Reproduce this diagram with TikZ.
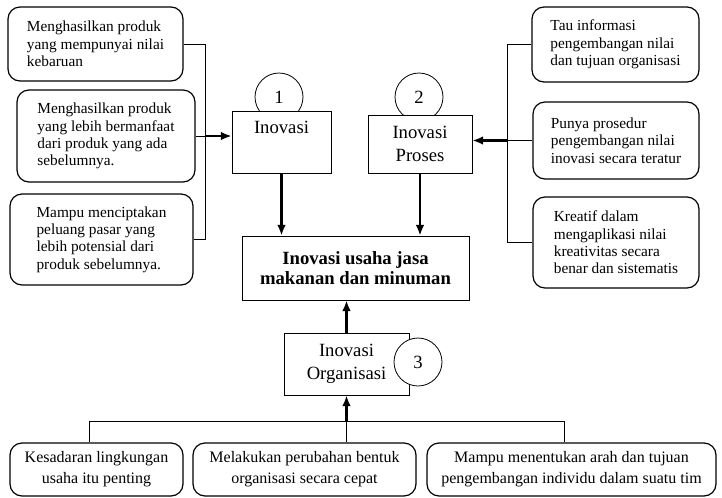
\documentclass[tikz,border=0pt]{standalone}
\usepackage{fontspec}
\setmainfont{Liberation Serif}
\usetikzlibrary{arrows.meta,positioning}

\tikzset{
  roundbox/.style={draw, rounded corners=9pt, line width=0.9pt, align=left,
    font=\fontsize{11.5}{13}\selectfont},
  bottombox/.style={roundbox, align=center, minimum height=39.75pt,
    font=\fontsize{12}{16}\selectfont},
  plainbox/.style={draw, fill=white, line width=0.6pt, align=center,
    font=\fontsize{14}{17}\selectfont},
  numcircle/.style={draw, circle, fill=white, line width=0.6pt, minimum size=36pt,
    inner sep=0pt, font=\fontsize{14}{17}\selectfont},
  thinline/.style={line width=0.6pt},
  thickarrow/.style={line width=1.6pt, -{Latex[length=8pt,width=6.5pt]}},
}

\begin{document}
\begin{tikzpicture}[x=0.75pt,y=-0.75pt]
    \useasboundingbox (0,0) rectangle (722,497);
    % numbers 1 and 2 sit behind their boxes
    \node[numcircle] (cOne) at (279,97) {1};
    \node[numcircle] (cTwo) at (419,97) {2};

    % centre column
    \node[plainbox, minimum width=74.25pt, minimum height=46.5pt] (nInovasi) at (281.5,142) {Inovasi\\\strut};
    \node[plainbox, minimum width=78pt, minimum height=43.5pt] (nProses) at (420,144) {Inovasi\\Proses};
    \node[plainbox, minimum width=170.25pt, minimum height=48pt,
        font=\fontsize{14}{15}\selectfont\bfseries] (nMain) at (355.5,268) {Inovasi usaha jasa\\makanan dan minuman};
    \node[plainbox, minimum width=93.75pt, minimum height=46.5pt] (nOrg) at (346.5,364) {Inovasi\\Organisasi};
    \node[numcircle] (cThree) at (418,362) {3};

    % left column
    \node[roundbox, minimum width=131.25pt, minimum height=55.5pt] (nLeftA) at (95.5,44)
        {Menghasilkan produk\\yang mempunyai nilai\\kebaruan};
    \node[roundbox, minimum width=133.5pt, minimum height=69pt] (nLeftB) at (106,136)
        {Menghasilkan produk\\yang lebih bermanfaat\\dari produk yang ada\\sebelumnya.};
    \node[roundbox, minimum width=137.25pt, minimum height=68.25pt] (nLeftC) at (101.5,239.5)
        {Mampu menciptakan\\peluang pasar yang\\lebih potensial dari\\produk sebelumnya.};

    % right column
    \node[roundbox, minimum width=125.25pt, minimum height=56.25pt] (nRightA) at (615.5,44.5)
        {Tau informasi\\pengembangan nilai\\dan tujuan organisasi};
    \node[roundbox, minimum width=124.5pt, minimum height=57.75pt] (nRightB) at (616,140.5)
        {Punya prosedur\\pengembangan nilai\\inovasi secara teratur};
    \node[roundbox, minimum width=124.5pt, minimum height=68.25pt] (nRightC) at (616,242.5)
        {Kreatif dalam\\mengaplikasi nilai\\kreativitas secara\\benar dan sistematis};

    % bottom row
    \node[bottombox, minimum width=129.75pt] (nBotA) at (96.5,469.5) {Kesadaran lingkungan\\usaha itu penting};
    \node[bottombox, minimum width=167.25pt] (nBotB) at (304.5,469.5) {Melakukan perubahan bentuk\\organisasi secara cepat};
    \node[bottombox, minimum width=216.75pt] (nBotC) at (571.5,469.5) {Mampu menentukan arah dan tujuan\\pengembangan individu dalam suatu tim};

    \coordinate (cLeftBar) at (205,0);
    \coordinate (cRightBar) at (507,0);
    \coordinate (cBottomBar) at (0,421);

    % left bracket
    \draw[thinline] (nLeftA.east) -- (nLeftA.east -| cLeftBar) -- (nLeftC.east -| cLeftBar) -- (nLeftC.east);
    \draw[thinline] (nLeftB.east) -- (nLeftB.east -| cLeftBar);
    \draw[thickarrow] (nLeftB.east -| cLeftBar) -- (nLeftB.east -| nInovasi.west);

    % right bracket
    \draw[thinline] (nRightA.west) -- (nRightA.west -| cRightBar) -- (nRightC.west -| cRightBar) -- (nRightC.west);
    \draw[thinline] (nRightB.west) -- (nRightB.west -| cRightBar);
    \draw[thickarrow] (nRightB.west -| cRightBar) -- (nRightB.west -| nProses.east);

    % bottom bracket
    \draw[thinline] ([xshift=-5pt]nBotA.north) -- ([xshift=-5pt]nBotA.north |- cBottomBar)
        -- ([xshift=-5pt]nBotC.north |- cBottomBar) -- ([xshift=-5pt]nBotC.north);
    \draw[thinline] (nOrg.south |- cBottomBar) -- (nOrg.south |- nBotB.north);
    \draw[thickarrow] (nOrg.south |- cBottomBar) -- (nOrg.south);

    % into the main box
    \draw[thickarrow] (nInovasi.south) -- (nInovasi.south |- nMain.north);
    \draw[thickarrow] (nProses.south) -- (nProses.south |- nMain.north);
    \draw[thickarrow] (nOrg.north) -- (nOrg.north |- nMain.south);
\end{tikzpicture}
\end{document}
